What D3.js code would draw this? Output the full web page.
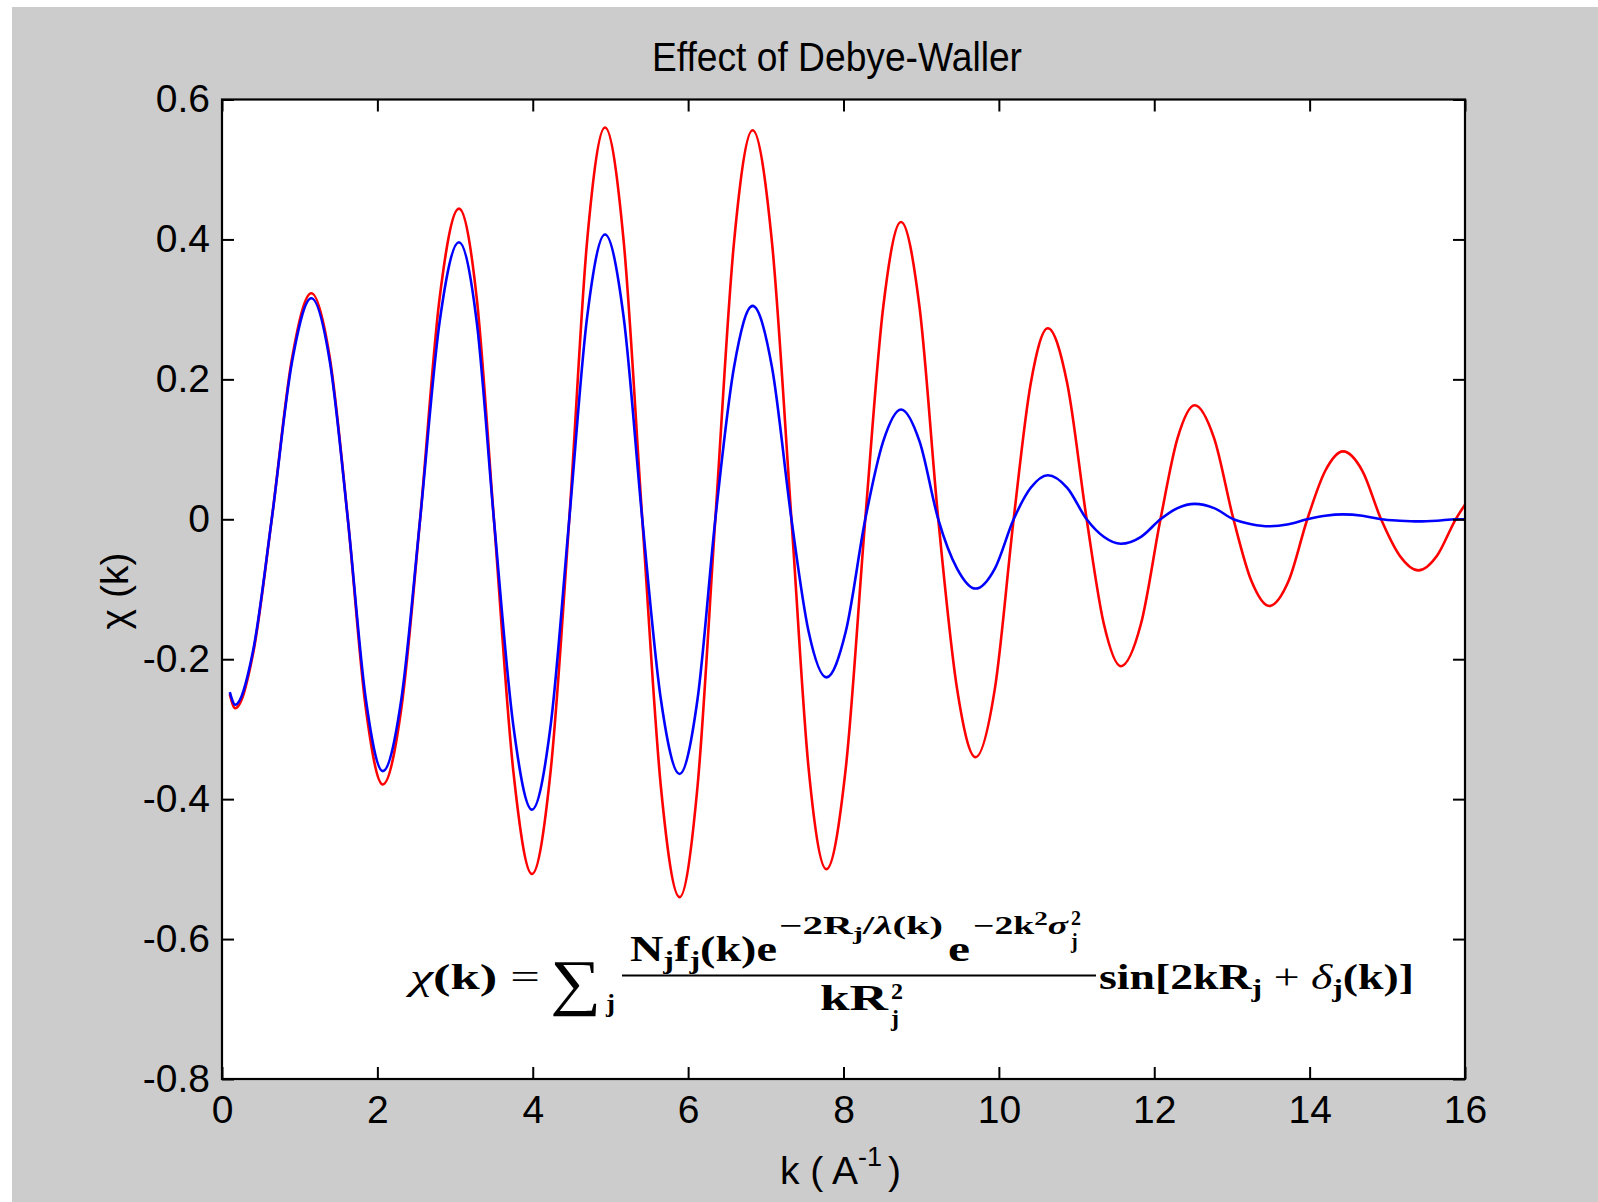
<!DOCTYPE html>
<html>
<head>
<meta charset="utf-8">
<script src="https://cdn.jsdelivr.net/npm/d3@7"></script>
<style>
  html, body { margin: 0; padding: 0; background: #ffffff; }
  svg { display: block; }
</style>
</head>
<body>
<svg id="chart" width="1598" height="1202"></svg>
<script>
// Wave number k (1/Å) at which chi(k) is sampled
const kValues = [
  0.10, 0.17, 0.40, 0.64, 0.90, 1.15, 1.39, 1.62, 1.85, 2.07,
  2.31, 2.55, 2.80, 3.05, 3.28, 3.50, 3.75, 3.99, 4.23, 4.47,
  4.70, 4.93, 5.17, 5.41, 5.65, 5.89, 6.12, 6.35, 6.59, 6.83,
  7.08, 7.33, 7.55, 7.78, 8.03, 8.28, 8.51, 8.74, 8.98, 9.22,
  9.46, 9.70, 9.95, 10.19, 10.41, 10.63, 10.88, 11.13, 11.35, 11.57,
  11.83, 12.08, 12.30, 12.52, 12.77, 13.02, 13.25, 13.48, 13.73, 13.97,
  14.20, 14.43, 14.68, 14.92, 15.16, 15.40, 15.64, 15.88, 16.00
];

// chi(k) with a small Debye-Waller factor (red)
const chiLowSigma = [
  -0.250, -0.270, -0.192, 0.000, 0.229, 0.323, 0.229, 0.000, -0.269, -0.379,
  -0.269, 0.000, 0.315, 0.444, 0.315, 0.000, -0.360, -0.507, -0.360, 0.000,
  0.398, 0.560, 0.398, 0.000, -0.383, -0.540, -0.383, 0.000, 0.395, 0.556,
  0.395, 0.000, -0.355, -0.500, -0.355, 0.000, 0.302, 0.425, 0.302, 0.000,
  -0.241, -0.340, -0.241, 0.000, 0.194, 0.273, 0.194, 0.000, -0.149, -0.210,
  -0.149, 0.000, 0.116, 0.163, 0.116, 0.000, -0.088, -0.124, -0.088, 0.000,
  0.069, 0.097, 0.069, 0.000, -0.052, -0.073, -0.052, 0.000, 0.021
];

// chi(k) with a larger Debye-Waller factor (blue)
const chiHighSigma = [
  -0.247, -0.265, -0.188, 0.000, 0.224, 0.316, 0.224, 0.000, -0.256, -0.360,
  -0.256, 0.000, 0.281, 0.396, 0.281, 0.000, -0.295, -0.415, -0.295, 0.000,
  0.289, 0.407, 0.289, 0.000, -0.258, -0.364, -0.258, 0.000, 0.217, 0.305,
  0.217, 0.000, -0.160, -0.226, -0.160, 0.000, 0.111, 0.157, 0.111, 0.000,
  -0.070, -0.099, -0.070, 0.000, 0.045, 0.063, 0.045, 0.000, -0.025, -0.035,
  -0.025, 0.000, 0.016, 0.022, 0.016, 0.000, -0.007, -0.010, -0.007, 0.000,
  0.005, 0.007, 0.005, 0.000, -0.002, -0.003, -0.002, 0.000, 0.000
];

const xTicks = [0, 2, 4, 6, 8, 10, 12, 14, 16];
const xTickLabels = ["0", "2", "4", "6", "8", "10", "12", "14", "16"];
const yTicks = [-0.8, -0.6, -0.4, -0.2, 0, 0.2, 0.4, 0.6];
const yTickLabels = ["-0.8", "-0.6", "-0.4", "-0.2", "0", "0.2", "0.4", "0.6"];

const titleText = "Effect of Debye-Waller";

// ---- layout ----
const W = 1598, H = 1202;
const plot = { left: 222, right: 1465, top: 99.5, bottom: 1079 };
const sansFont = "'Liberation Sans', Arial, Helvetica, sans-serif";
const serifFont = "'Liberation Serif', 'Times New Roman', 'DejaVu Serif', serif";
const tickFontSize = 39;

const svg = d3.select("#chart");

// figure background
svg.append("rect")
  .attr("x", 12).attr("y", 7)
  .attr("width", W - 12).attr("height", H - 7)
  .attr("fill", "#cccccc");

const x = d3.scaleLinear().domain([0, 16]).range([plot.left, plot.right]);
const y = d3.scaleLinear().domain([-0.8, 0.6]).range([plot.bottom, plot.top]);

// axes background
svg.append("rect")
  .attr("x", plot.left).attr("y", plot.top)
  .attr("width", plot.right - plot.left).attr("height", plot.bottom - plot.top)
  .attr("fill", "#ffffff");

svg.append("clipPath").attr("id", "plotClip")
  .append("rect")
  .attr("x", plot.left).attr("y", plot.top)
  .attr("width", plot.right - plot.left).attr("height", plot.bottom - plot.top);

// ---- curves ----
const pts = (vals) => kValues.map((k, i) => [k, vals[i]]);
const line = d3.line()
  .x(d => x(d[0]))
  .y(d => y(d[1]))
  .curve(d3.curveMonotoneX);

const curves = svg.append("g").attr("clip-path", "url(#plotClip)");
curves.append("path")
  .datum(pts(chiLowSigma))
  .attr("d", line)
  .attr("fill", "none")
  .attr("stroke", "#ff0000")
  .attr("stroke-width", 2.6)
  .attr("stroke-linejoin", "round");
curves.append("path")
  .datum(pts(chiHighSigma))
  .attr("d", line)
  .attr("fill", "none")
  .attr("stroke", "#0000ff")
  .attr("stroke-width", 2.6)
  .attr("stroke-linejoin", "round");

// ---- axes (ticks pointing inward on all four sides) ----
function styleAxis(g) {
  g.select(".domain").remove();
  g.selectAll(".tick line").attr("stroke", "#000").attr("stroke-width", 2);
  g.selectAll(".tick text")
    .attr("fill", "#000")
    .attr("font-family", sansFont)
    .attr("font-size", tickFontSize);
}

svg.append("g")
  .attr("transform", `translate(0,${plot.bottom})`)
  .call(d3.axisBottom(x).tickValues(xTicks)
    .tickFormat((d, i) => xTickLabels[i])
    .tickSizeInner(-12).tickSizeOuter(0).tickPadding(16))
  .call(styleAxis);

svg.append("g")
  .attr("transform", `translate(0,${plot.top})`)
  .call(d3.axisTop(x).tickValues(xTicks).tickFormat("")
    .tickSizeInner(-12).tickSizeOuter(0))
  .call(styleAxis);

svg.append("g")
  .attr("transform", `translate(${plot.left},0)`)
  .call(d3.axisLeft(y).tickValues(yTicks)
    .tickFormat((d, i) => yTickLabels[i])
    .tickSizeInner(-12).tickSizeOuter(0).tickPadding(12))
  .call(styleAxis);

svg.append("g")
  .attr("transform", `translate(${plot.right},0)`)
  .call(d3.axisRight(y).tickValues(yTicks).tickFormat("")
    .tickSizeInner(-12).tickSizeOuter(0))
  .call(styleAxis);

// axes box
svg.append("rect")
  .attr("x", plot.left).attr("y", plot.top)
  .attr("width", plot.right - plot.left).attr("height", plot.bottom - plot.top)
  .attr("fill", "none")
  .attr("stroke", "#000")
  .attr("stroke-width", 2.2);

// ---- title and axis labels ----
svg.append("text")
  .attr("x", 837).attr("y", 71)
  .attr("text-anchor", "middle")
  .attr("font-family", sansFont)
  .attr("font-size", 41)
  .attr("textLength", 370)
  .attr("lengthAdjust", "spacingAndGlyphs")
  .attr("fill", "#000")
  .text(titleText);

const xLabel = svg.append("text")
  .attr("x", 780).attr("y", 1184)
  .attr("font-family", sansFont)
  .attr("font-size", 39)
  .attr("fill", "#000");
xLabel.append("tspan").text("k ( A");
xLabel.append("tspan").attr("font-size", 27).attr("dy", -18).text("-1");
xLabel.append("tspan").attr("dy", 18).attr("dx", 6).text(")");

svg.append("text")
  .attr("transform", "translate(114,591) rotate(-90)")
  .attr("text-anchor", "middle")
  .attr("dominant-baseline", "central")
  .attr("font-family", sansFont)
  .attr("font-size", 39)
  .attr("fill", "#000")
  .text("\u03C7 (k)");

// ---- EXAFS equation ----
// A run of math text; each part: s = string, size, shift = baseline offset,
// it = italic, bf = bold (default), dx = extra horizontal offset.
function mathText(parts, x0, baseline, width) {
  const t = svg.append("text")
    .attr("x", x0).attr("y", baseline)
    .attr("font-family", serifFont)
    .attr("fill", "#000");
  if (width) t.attr("textLength", width).attr("lengthAdjust", "spacingAndGlyphs");
  let prev = 0;
  parts.forEach(p => {
    const sh = p.shift || 0;
    const ts = t.append("tspan")
      .attr("dy", sh - prev)
      .attr("font-size", p.size)
      .attr("font-style", p.it ? "italic" : "normal")
      .attr("font-weight", p.bf === false ? "normal" : "bold")
      .text(p.s);
    if (p.dx) ts.attr("dx", p.dx);
    prev = sh;
  });
  return t;
}

const M = 36, S = 25, SS = 18;

// chi(k) =
mathText([
  { s: "\u03C7", size: M, it: true, bf: false },
  { s: "(k)", size: M },
  { s: " =", size: M, bf: false }
], 410, 989, 130);

// summation sign with subscript j
mathText([{ s: "\u2211", size: 62, bf: false }], 550, 1003, 51);
mathText([{ s: "j", size: S }], 606, 1012, 9);

// numerator: N_j f_j(k) e^{-2R_j/lambda(k)} e^{-2k^2 sigma_j^2}
mathText([
  { s: "N", size: M },
  { s: "j", size: S, shift: 8 },
  { s: "f", size: M },
  { s: "j", size: S, shift: 8 },
  { s: "(k)e", size: M }
], 630, 961, 147);
mathText([
  { s: "\u22122R", size: S },
  { s: "j", size: SS, shift: 6 },
  { s: "/", size: S },
  { s: "\u03BB", size: S, it: true },
  { s: "(k)", size: S }
], 779, 934, 164);
mathText([{ s: "e", size: M }], 948, 961, 22);
mathText([
  { s: "\u22122k", size: S },
  { s: "2", size: SS, shift: -9 },
  { s: "\u03C3", size: S, it: true }
], 973, 934, 95);
mathText([{ s: "2", size: 20 }], 1071, 925);
mathText([{ s: "j", size: 20 }], 1071, 948);

// fraction bar
svg.append("line")
  .attr("x1", 622).attr("x2", 1096)
  .attr("y1", 975.5).attr("y2", 975.5)
  .attr("stroke", "#000").attr("stroke-width", 2);

// denominator: k R_j^2
mathText([{ s: "kR", size: M }], 820, 1010, 68);
mathText([{ s: "2", size: 24 }], 891, 999);
mathText([{ s: "j", size: 24 }], 891, 1026);

// sin[2kR_j + delta_j(k)]
mathText([
  { s: "sin[2kR", size: M },
  { s: "j", size: S, shift: 8 },
  { s: " + ", size: M, bf: false },
  { s: "\u03B4", size: M, it: true, bf: false },
  { s: "j", size: S, shift: 8 },
  { s: "(k)]", size: M }
], 1099, 989, 315);
</script>
</body>
</html>
